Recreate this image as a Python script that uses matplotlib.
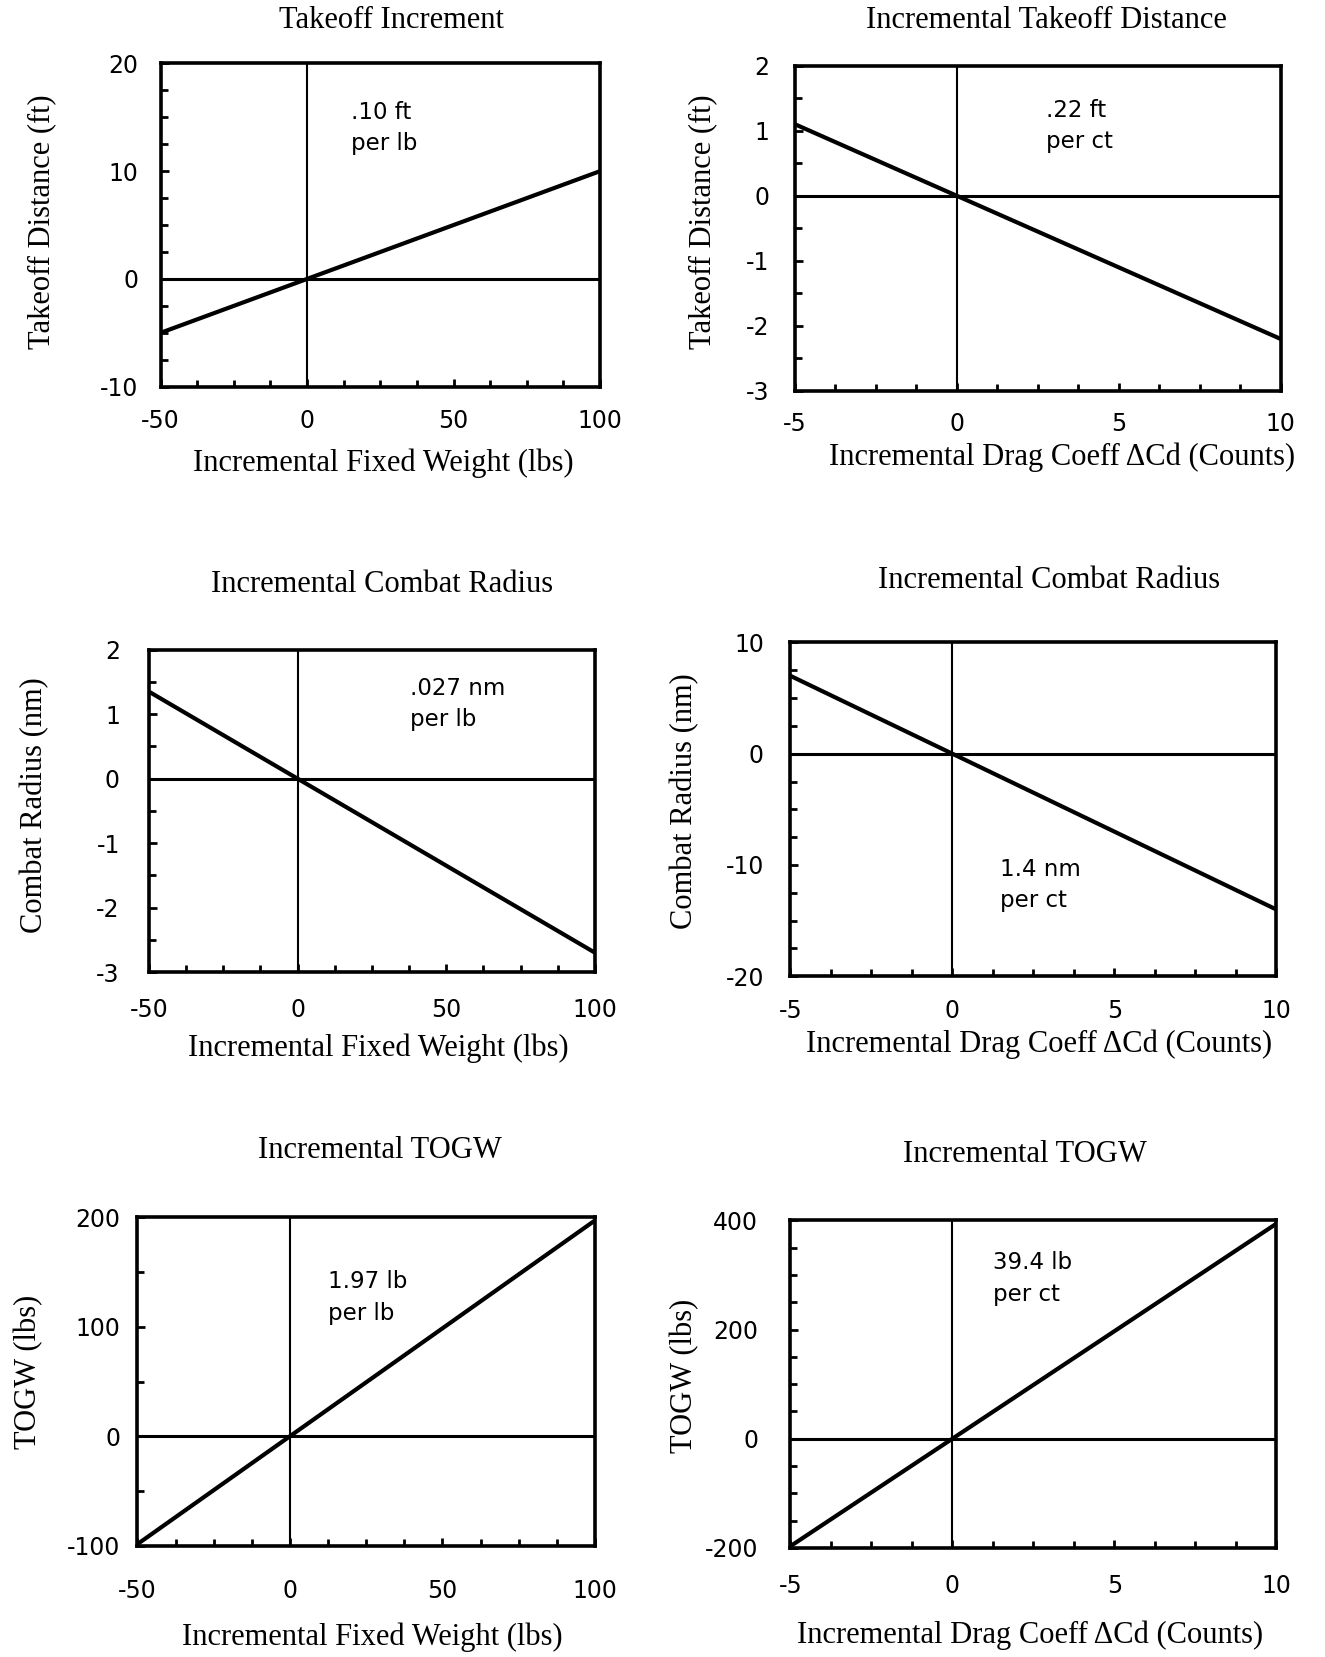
import matplotlib
matplotlib.use("Agg")
import matplotlib.pyplot as plt
from matplotlib.ticker import MultipleLocator, FixedLocator

plt.rcParams["axes.unicode_minus"] = False

# ---- data -------------------------------------------------------------
weight_x = [-50, 100]          # incremental fixed weight (lbs)
drag_x = [-5, 10]              # incremental drag coefficient (counts)

takeoff_wt_y = [-5.0, 10.0]    # takeoff distance (ft), .10 ft per lb
takeoff_drag_y = [1.1, -2.2]   # takeoff distance (ft), .22 ft per ct
radius_wt_y = [1.35, -2.7]     # combat radius (nm), .027 nm per lb
radius_drag_y = [7.0, -14.0]   # combat radius (nm), 1.4 nm per ct
togw_wt_y = [-98.5, 197.0]     # TOGW (lbs), 1.97 lb per lb
togw_drag_y = [-197.0, 394.0]  # TOGW (lbs), 39.4 lb per ct

titles = ["Takeoff Increment", "Incremental Takeoff Distance",
          "Incremental Combat Radius", "Incremental Combat Radius",
          "Incremental TOGW", "Incremental TOGW"]
ylabels = ["Takeoff Distance (ft)", "Takeoff Distance (ft)",
           "Combat Radius (nm)", "Combat Radius (nm)",
           "TOGW (lbs)", "TOGW (lbs)"]
xlabel_weight = "Incremental Fixed Weight (lbs)"
xlabel_drag = "Incremental Drag Coeff \u0394Cd (Counts)"
notes = [".10 ft\nper lb", ".22 ft\nper ct", ".027 nm\nper lb",
         "1.4 nm\nper ct", "1.97 lb\nper lb", "39.4 lb\nper ct"]

weight_ticks = [-50, 0, 50, 100]
drag_ticks = [-5, 0, 5, 10]
yticks = [[-10, 0, 10, 20], [-3, -2, -1, 0, 1, 2], [-3, -2, -1, 0, 1, 2],
          [-20, -10, 0, 10], [-100, 0, 100, 200], [-200, 0, 200, 400]]
ylims = [(-10, 20), (-3, 2), (-3, 2), (-20, 10), (-100, 200), (-200, 400)]
yminor = [2.5, 0.5, 0.5, 2.5, 50, 50]

# ---- layout (pixels) ----------------------------------------------------
W, H = 1325, 1657
fig = plt.figure(figsize=(W / 100, H / 100), dpi=100)
fig.patch.set_facecolor("white")

SERIF = "Liberation Serif"
SANS = "DejaVu Sans"

panels = [
    dict(box=(160.6, 63.4, 600.0, 386.7), x=weight_x, y=takeoff_wt_y, xt=weight_ticks, xminor=12.5,
         title=(391, 21), xl=(383.6, 463), yl=(42, 222), note=(351, 128), xpad=16, ypad=16),
    dict(box=(794.6, 65.5, 1280.6, 391.0), x=drag_x, y=takeoff_drag_y, xt=drag_ticks, xminor=1.25,
         title=(1046, 21), xl=(1062, 457.5), yl=(703, 222), note=(1046, 126), xpad=15, ypad=18),
    dict(box=(149.0, 649.8, 594.9, 972.0), x=weight_x, y=radius_wt_y, xt=weight_ticks, xminor=12.5,
         title=(382.5, 584), xl=(378, 1048), yl=(35, 805), note=(410, 704), xpad=19, ypad=21),
    dict(box=(790.3, 642.4, 1276.4, 976.3), x=drag_x, y=radius_drag_y, xt=drag_ticks, xminor=1.25,
         title=(1049, 580), xl=(1039, 1044), yl=(685, 801), note=(1000, 885), xpad=16, ypad=19),
    dict(box=(137.4, 1217.2, 594.9, 1545.8), x=weight_x, y=togw_wt_y, xt=weight_ticks, xminor=12.5,
         title=(380, 1150), xl=(372, 1637), yl=(28.5, 1372), note=(327.5, 1297.5), xpad=24, ypad=12),
    dict(box=(790.3, 1220.4, 1276.4, 1547.9), x=drag_x, y=togw_drag_y, xt=drag_ticks, xminor=1.25,
         title=(1025, 1155), xl=(1030, 1635), yl=(685, 1376), note=(993, 1278.5), xpad=19, ypad=23),
]


def fx(px):
    return px / W


def fy(py):
    return 1 - py / H


for i, p in enumerate(panels):
    l, t, r, b = p["box"]
    ax = fig.add_axes([fx(l), fy(b), (r - l) / W, (b - t) / H])
    ax.set_xlim(p["x"][0], p["x"][1])
    ax.set_ylim(*ylims[i])

    ax.axhline(0, color="black", lw=2.2, zorder=2)
    ax.axvline(0, color="black", lw=1.5, zorder=2)
    ax.plot(p["x"], p["y"], color="black", lw=3.0, solid_capstyle="butt", zorder=3)

    for s in ax.spines.values():
        s.set_linewidth(2.6)
        s.set_color("black")

    ax.xaxis.set_major_locator(FixedLocator(p["xt"]))
    ax.xaxis.set_minor_locator(MultipleLocator(p["xminor"]))
    ax.yaxis.set_major_locator(FixedLocator(yticks[i]))
    ax.yaxis.set_minor_locator(MultipleLocator(yminor[i]))
    ax.tick_params(which="both", direction="in", top=False, right=False,
                   color="black", width=2.0)
    ax.tick_params(which="major", length=6)
    ax.tick_params(which="minor", length=5)
    ax.tick_params(axis="x", which="major", pad=p["xpad"])
    ax.tick_params(axis="y", which="major", pad=p["ypad"])
    for lab in ax.get_xticklabels() + ax.get_yticklabels():
        lab.set_fontfamily(SANS)
        lab.set_fontsize(17)

    fig.text(fx(p["title"][0]), fy(p["title"][1]), titles[i], family=SERIF,
             fontsize=22, ha="center", va="center")
    fig.text(fx(p["xl"][0]), fy(p["xl"][1]),
             xlabel_weight if p["x"] is weight_x else xlabel_drag,
             family=SERIF, fontsize=22, ha="center", va="center")
    fig.text(fx(p["yl"][0]), fy(p["yl"][1]), ylabels[i], family=SERIF,
             fontsize=22, ha="center", va="center", rotation=90)
    fig.text(fx(p["note"][0]), fy(p["note"][1]), notes[i], family=SANS,
             fontsize=16.5, ha="left", va="center", linespacing=1.45)

fig.savefig("out.png", dpi=100, facecolor="white")
